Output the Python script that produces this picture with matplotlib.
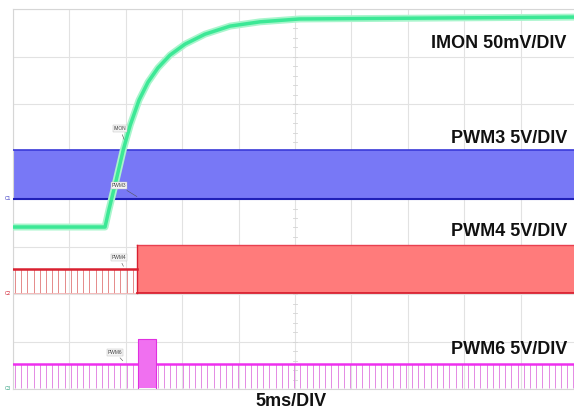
import numpy as np
import matplotlib.pyplot as plt

plt.rcParams['font.family'] = ['Liberation Sans', 'DejaVu Sans']

# IMON trace (time in ms, level in divisions)
imon_t = [0, 8.16, 8.5, 9.15, 9.77, 10.4, 11.17, 11.97, 12.85, 13.92, 15.25, 17.02, 19.24, 21.9, 25.4, 50]
imon_v = [3.41, 3.41, 3.77, 4.40, 5.03, 5.56, 6.08, 6.46, 6.76, 7.03, 7.26, 7.47, 7.64, 7.73, 7.79, 7.83]

# PWM3: fast switching, shown as a filled band
pwm3_low, pwm3_high = 4.0, 5.03

# PWM4: narrow pulses until the switch, then fast switching
pwm4_switch = 10.99
pwm4_low = 2.02
pwm4_high_before, pwm4_high_after = 2.53, 3.03

# PWM6: narrow pulses with a short burst
pwm6_low, pwm6_high = 0.02, 0.53
pwm6_burst = (11.08, 12.68)
pwm6_burst_high = 1.05

pulse_start = 0.18
pulse_period = 0.55

fig = plt.figure(figsize=(5.74, 4.16), dpi=100)
ax = fig.add_axes([13 / 574, 27 / 416, 564 / 574, 380 / 416])
ax.set_xlim(0, 50)
ax.set_ylim(0, 8)

# scope grid
for gx in np.arange(0, 51, 5):
    ax.axvline(gx, color='#e2e2e2', lw=0.8, zorder=0)
for gy in range(9):
    ax.axhline(gy, color='#e2e2e2', lw=0.8, zorder=0)
for gy in np.arange(0, 8, 0.2):
    ax.plot([24.85, 25.15], [gy, gy], color='#d4d4d4', lw=0.6, zorder=0)
ax.set_xticks([])
ax.set_yticks([])
for s in ax.spines.values():
    s.set_color('#d6d6d6')

# PWM3
ax.fill_between([0, 50], pwm3_low, pwm3_high, color='#7878f6', lw=0, zorder=2)
ax.plot([0, 50], [pwm3_high, pwm3_high], color='#3a3ad8', lw=1.2, zorder=3)
ax.plot([0, 50], [pwm3_low, pwm3_low], color='#2020b8', lw=1.5, zorder=3)

# PWM4
ticks4 = np.arange(pulse_start, pwm4_switch, pulse_period)
ax.vlines(ticks4, pwm4_low, pwm4_high_before, color='#e58a8a', lw=0.7, zorder=2)
ax.plot([0, pwm4_switch], [pwm4_high_before, pwm4_high_before], color='#d92030', lw=1.8, zorder=3)
ax.plot([0, pwm4_switch], [pwm4_low, pwm4_low], color='#f0b0b0', lw=0.6, zorder=2)
ax.fill_between([pwm4_switch, 50], pwm4_low, pwm4_high_after, color='#ff7b7b', lw=0, zorder=2)
ax.plot([pwm4_switch, 50], [pwm4_high_after, pwm4_high_after], color='#e84050', lw=1.0, zorder=3)
ax.plot([pwm4_switch, 50], [pwm4_low, pwm4_low], color='#d82030', lw=1.3, zorder=3)
ax.plot([pwm4_switch, pwm4_switch], [pwm4_low, pwm4_high_after], color='#d82030', lw=1.0, zorder=3)

# PWM6
ticks6 = np.arange(pulse_start, 50, pulse_period)
ticks6 = ticks6[(ticks6 < pwm6_burst[0]) | (ticks6 > pwm6_burst[1])]
ax.vlines(ticks6, pwm6_low, pwm6_high, color='#e48ae4', lw=0.7, zorder=2)
ax.plot([0, 50], [pwm6_high, pwm6_high], color='#ee30ee', lw=1.8, zorder=3)
ax.fill_between(pwm6_burst, pwm6_low, pwm6_burst_high, color='#f070f0', lw=0, zorder=4)
ax.plot([pwm6_burst[0], pwm6_burst[0], pwm6_burst[1], pwm6_burst[1]],
        [pwm6_low, pwm6_burst_high, pwm6_burst_high, pwm6_low], color='#e030e0', lw=0.8, zorder=4)

# IMON
ax.plot(imon_t, imon_v, color='#a8f5cc', lw=5, zorder=5, solid_capstyle='butt')
ax.plot(imon_t, imon_v, color='#3ce896', lw=2.5, zorder=6)

# small probe labels
small = dict(fontsize=3.5, color='#444444', zorder=7,
             bbox=dict(boxstyle='square,pad=0.15', fc='#f4f4f4', ec='#bbbbbb', lw=0.3))
ax.annotate('IMON', xy=(9.95, 5.2), xytext=(8.9, 5.45), arrowprops=dict(arrowstyle='-', lw=0.4, color='#555555'), **small)
ax.annotate('PWM3', xy=(11.2, 4.02), xytext=(8.75, 4.25), arrowprops=dict(arrowstyle='-', lw=0.4, color='#555555'), **small)
ax.annotate('PWM4', xy=(9.9, 2.53), xytext=(8.75, 2.74), arrowprops=dict(arrowstyle='-', lw=0.4, color='#555555'), **small)
ax.annotate('PWM6', xy=(9.9, 0.55), xytext=(8.4, 0.74), arrowprops=dict(arrowstyle='-', lw=0.4, color='#555555'), **small)
for cy, cl, cc in [(4.0, 'C1', '#3030c0'), (2.02, 'C2', '#d02030'), (0.02, 'C3', '#30a080')]:
    ax.text(-0.15, cy, cl, fontsize=3.5, color=cc, ha='right', va='center', clip_on=False)

# channel labels
lab = dict(fontsize=13, fontweight='bold', ha='right', va='center', color='#111111', zorder=8)
ax.text(49.1, 7.28, 'IMON 50mV/DIV', **lab)
ax.text(49.1, 5.28, 'PWM3 5V/DIV', **lab)
ax.text(49.1, 3.31, 'PWM4 5V/DIV', **lab)
ax.text(49.1, 0.84, 'PWM6 5V/DIV', **lab)
fig.text(291 / 574, 1 - 402 / 416, '5ms/DIV', fontsize=13, fontweight='bold', ha='center', va='center', color='#111111')

fig.savefig('out.png', dpi=100)
